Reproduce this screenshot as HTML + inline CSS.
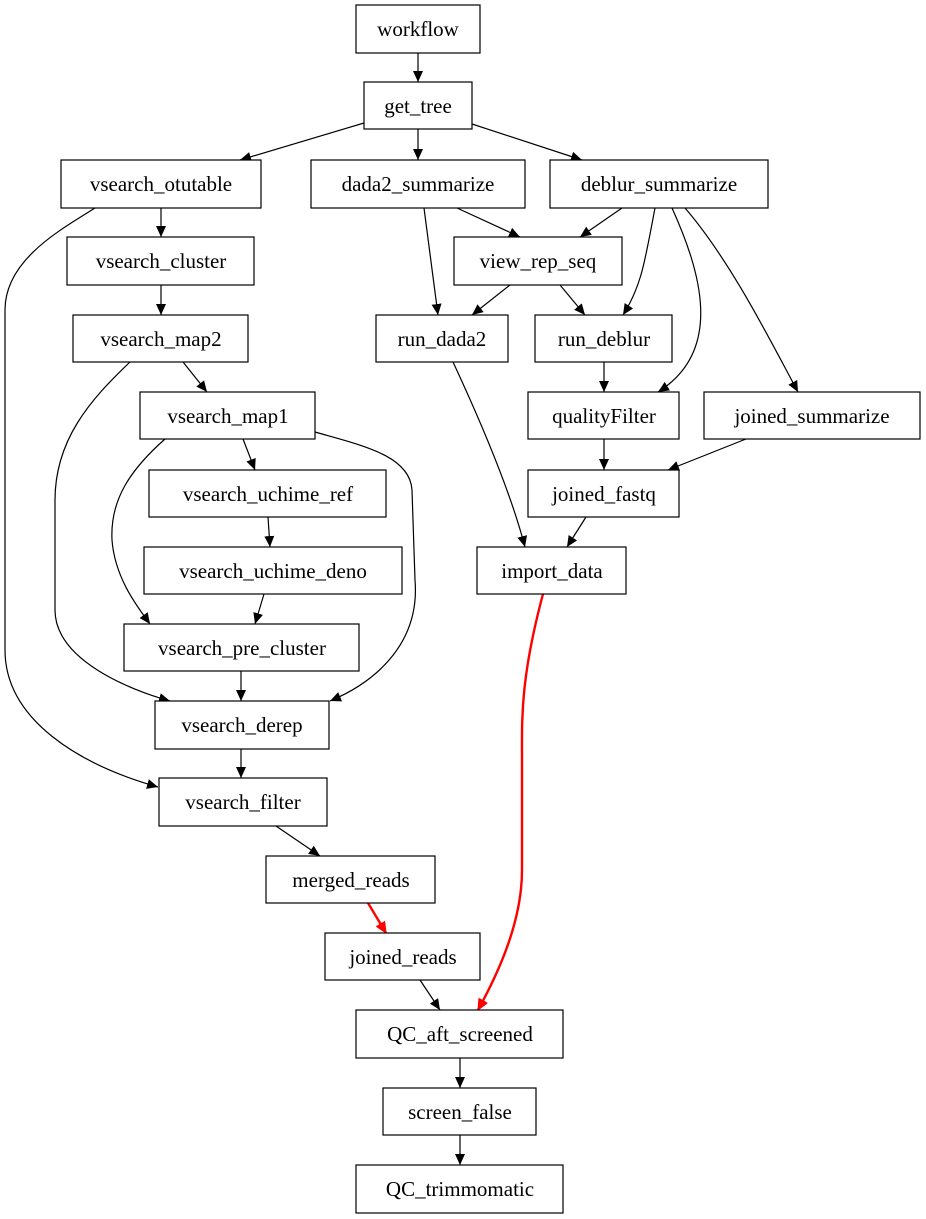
<!DOCTYPE html>
<html><head><meta charset="utf-8"><style>
html,body{margin:0;padding:0;background:#fff;}
svg{display:block;}
text{font-family:"Liberation Serif",serif;font-size:21px;fill:#000;}
</style></head><body>
<svg width="926" height="1219" viewBox="0 0 926 1219" xmlns="http://www.w3.org/2000/svg">
<defs>
<marker id="a" markerUnits="userSpaceOnUse" markerWidth="12" markerHeight="10" refX="11" refY="5" orient="auto"><path d="M0,0 L11,5 L0,10 Z" fill="#000"/></marker>
<marker id="r" markerUnits="userSpaceOnUse" markerWidth="12" markerHeight="10" refX="11" refY="5" orient="auto"><path d="M0,0 L11,5 L0,10 Z" fill="red" stroke="red"/></marker>
</defs>
<g fill="none" stroke="#000" stroke-width="1.2" marker-end="url(#a)">
<path d="M418,53 L418,82"/>
<path d="M364,123 L240,160"/>
<path d="M418,129 L418,160"/>
<path d="M472,124 L582,160"/>
<path d="M161,208 L161,237"/>
<path d="M95,208 C60,230 5,260 5,310 L5,650 C5,720 80,765 158,787"/>
<path d="M457,208 L520,237"/>
<path d="M424,208 L438,315"/>
<path d="M622,208 L580,237"/>
<path d="M655,208 C645,260 642,285 623,315"/>
<path d="M672,208 C700,270 725,350 658,392"/>
<path d="M685,208 C730,260 770,340 798,392"/>
<path d="M510,285 L472,315"/>
<path d="M560,285 L585,315"/>
<path d="M161,285 L161,315"/>
<path d="M183,362 L207,392"/>
<path d="M130,362 C90,400 55,440 55,500 L55,610 C55,660 130,690 170,701"/>
<path d="M453,362 C480,420 510,490 525,547"/>
<path d="M604,362 L604,392"/>
<path d="M243,439 L255,470"/>
<path d="M165,439 C130,470 110,500 112,540 C115,580 140,610 150,624"/>
<path d="M315,432 C360,445 410,455 412,490 L415,580 C420,640 380,680 330,701"/>
<path d="M604,439 L604,470"/>
<path d="M746,439 L668,470"/>
<path d="M268,517 L270,547"/>
<path d="M264,594 L255,624"/>
<path d="M586,517 L567,547"/>
<path d="M241,671 L241,701"/>
<path d="M241,749 L241,778"/>
<path d="M276,826 L320,856"/>
<path d="M420,980 L440,1010"/>
<path d="M460,1058 L460,1088"/>
<path d="M460,1135 L460,1165"/>
</g>
<g fill="none" stroke="red" stroke-width="2.4" marker-end="url(#r)">
<path d="M543,594 C520,680 522,720 522,760 L522,870 C522,920 500,970 478,1010"/>
<path d="M368,903 L386,933"/>
</g>
<g fill="#fff" stroke="#000" stroke-width="1.2">
<rect x="356" y="5" width="124" height="48"/>
<rect x="364" y="82" width="108" height="47"/>
<rect x="61" y="160" width="200" height="48"/>
<rect x="311" y="160" width="214" height="48"/>
<rect x="550" y="160" width="218" height="48"/>
<rect x="67" y="237" width="187" height="48"/>
<rect x="454" y="237" width="168" height="48"/>
<rect x="73" y="315" width="175" height="47"/>
<rect x="376" y="315" width="132" height="47"/>
<rect x="535" y="315" width="137" height="47"/>
<rect x="140" y="392" width="175" height="47"/>
<rect x="528" y="392" width="151" height="47"/>
<rect x="704" y="392" width="216" height="47"/>
<rect x="149" y="470" width="237" height="47"/>
<rect x="528" y="470" width="151" height="47"/>
<rect x="144" y="547" width="258" height="47"/>
<rect x="477" y="547" width="149" height="47"/>
<rect x="124" y="624" width="235" height="47"/>
<rect x="155" y="701" width="174" height="48"/>
<rect x="159" y="778" width="168" height="48"/>
<rect x="266" y="856" width="169" height="47"/>
<rect x="325" y="933" width="155" height="47"/>
<rect x="356" y="1010" width="207" height="48"/>
<rect x="383" y="1088" width="153" height="47"/>
<rect x="356" y="1165" width="207" height="48"/>
</g>
<g text-anchor="middle">
<text x="418" y="36">workflow</text>
<text x="418" y="113">get_tree</text>
<text x="161" y="191">vsearch_otutable</text>
<text x="418" y="191">dada2_summarize</text>
<text x="659" y="191">deblur_summarize</text>
<text x="161" y="268">vsearch_cluster</text>
<text x="538" y="268">view_rep_seq</text>
<text x="161" y="346">vsearch_map2</text>
<text x="442" y="346">run_dada2</text>
<text x="604" y="346">run_deblur</text>
<text x="228" y="423">vsearch_map1</text>
<text x="604" y="423">qualityFilter</text>
<text x="812" y="423">joined_summarize</text>
<text x="268" y="501">vsearch_uchime_ref</text>
<text x="604" y="501">joined_fastq</text>
<text x="273" y="578">vsearch_uchime_deno</text>
<text x="552" y="578">import_data</text>
<text x="242" y="655">vsearch_pre_cluster</text>
<text x="242" y="732">vsearch_derep</text>
<text x="243" y="809">vsearch_filter</text>
<text x="351" y="887">merged_reads</text>
<text x="403" y="964">joined_reads</text>
<text x="460" y="1041">QC_aft_screened</text>
<text x="460" y="1119">screen_false</text>
<text x="460" y="1196">QC_trimmomatic</text>
</g>
</svg>
</body></html>
